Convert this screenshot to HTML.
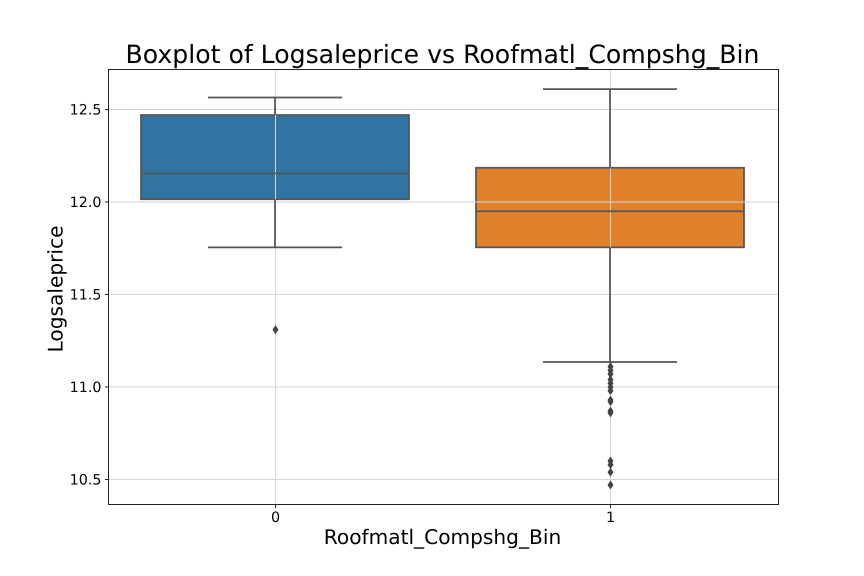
<!DOCTYPE html>
<html>
<head>
<meta charset="utf-8">
<title>Boxplot of Logsaleprice vs Roofmatl_Compshg_Bin</title>
<style>
html,body{margin:0;padding:0;background:#fff;}
svg{display:block;}
text{font-family:"DejaVu Sans","Liberation Sans",sans-serif;fill:#000;text-rendering:geometricPrecision;}
</style>
</head>
<body>
<svg id="chart" xmlns="http://www.w3.org/2000/svg" width="864" height="576" viewBox="0 0 864 576">
<rect width="864" height="576" fill="#fff"/>
<text x="442.5" y="63" font-size="25.15" text-anchor="middle">Boxplot of Logsaleprice vs Roofmatl_Compshg_Bin</text>
<text x="442.5" y="544" font-size="20.15" text-anchor="middle">Roofmatl_Compshg_Bin</text>
<text x="0" y="0" font-size="20.15" text-anchor="middle" transform="translate(62.5,289) rotate(-90)">Logsaleprice</text>
</svg>
<script>
var categories = ['0', '1'];
var q1Values = [12.015, 11.755];
var medianValues = [12.155, 11.95];
var q3Values = [12.47, 12.185];
var whiskerLowValues = [11.755, 11.135];
var whiskerHighValues = [12.565, 12.61];
var outliers0 = [11.31];
var outliers1 = [11.11, 11.09, 11.07, 11.04, 11.02, 11.0, 10.98, 10.93, 10.92, 10.87, 10.86, 10.6, 10.58, 10.54, 10.47];
var yTickLabels = ['10.5', '11.0', '11.5', '12.0', '12.5'];

var svg = document.getElementById('chart');
var NS = 'http://www.w3.org/2000/svg';
var plotLeft = 108.5, plotRight = 778.5, plotTop = 69.5, plotBottom = 504.5;

function xScale(v) { return plotLeft + (v + 0.5) / 2 * (plotRight - plotLeft) - 1; }
function yScale(v) { return 479.5 - (v - 10.5) * 185; }
function make(tag) {
  var el = document.createElementNS(NS, tag);
  svg.appendChild(el);
  return el;
}
function setLine(el, x1, y1, x2, y2, color, width) {
  el.setAttribute('x1', x1);
  el.setAttribute('y1', y1);
  el.setAttribute('x2', x2);
  el.setAttribute('y2', y2);
  el.setAttribute('stroke', color);
  el.setAttribute('stroke-width', width);
}

var boxColors = ['#3274a1', '#e1812c'];
var lineColor = '#555555';
var lineWidth = 1.75;

categories.forEach(function (cat, i) {
  var cx = xScale(i);
  var halfBox = xScale(0.4) - xScale(0);
  var box = make('rect');
  
  
  box.setAttribute('x', cx - halfBox);
  box.setAttribute('y', yScale(q3Values[i]));
  box.setAttribute('width', halfBox * 2);
  box.setAttribute('height', yScale(q1Values[i]) - yScale(q3Values[i]));
  box.setAttribute('fill', boxColors[i]);
  box.setAttribute('stroke', lineColor);
  box.setAttribute('stroke-width', lineWidth);
});

yTickLabels.forEach(function (label) {
  var y = yScale(parseFloat(label));
  var grid = make('line');
  
  
  setLine(grid, plotLeft, y, plotRight, y, '#d6d6d6', 1);
  var tick = make('line');
  
  
  setLine(tick, plotLeft - 3.5, y, plotLeft, y, '#222', 1);
  var text = make('text');
  
  
  text.setAttribute('x', plotLeft - 7);
  text.setAttribute('y', y + 5);
  text.setAttribute('font-size', 14.3);
  text.setAttribute('text-anchor', 'end');
  text.textContent = label;
});

categories.forEach(function (cat, i) {
  var x = xScale(i) + 0.5;
  var grid = make('line');
  
  
  setLine(grid, x, plotTop, x, plotBottom, '#d6d6d6', 1);
  var tick = make('line');
  
  
  setLine(tick, x, plotBottom, x, plotBottom + 3.5, '#222', 1);
  var text = make('text');
  
  
  text.setAttribute('x', x);
  text.setAttribute('y', 522);
  text.setAttribute('font-size', 14.3);
  text.setAttribute('text-anchor', 'middle');
  text.textContent = cat;
});

categories.forEach(function (cat, i) {
  var cx = xScale(i);
  var halfBox = xScale(0.4) - xScale(0);
  var halfCap = xScale(0.2) - xScale(0);
  var lowLine = make('line');
  
  
  setLine(lowLine, cx, yScale(q1Values[i]), cx, yScale(whiskerLowValues[i]), lineColor, lineWidth);
  var highLine = make('line');
  
  
  setLine(highLine, cx, yScale(q3Values[i]), cx, yScale(whiskerHighValues[i]), lineColor, lineWidth);
  var lowCap = make('line');
  
  
  setLine(lowCap, cx - halfCap, yScale(whiskerLowValues[i]), cx + halfCap, yScale(whiskerLowValues[i]), lineColor, lineWidth);
  var highCap = make('line');
  
  
  setLine(highCap, cx - halfCap, yScale(whiskerHighValues[i]), cx + halfCap, yScale(whiskerHighValues[i]), lineColor, lineWidth);
  var median = make('line');
  
  
  setLine(median, cx - halfBox, yScale(medianValues[i]), cx + halfBox, yScale(medianValues[i]), lineColor, lineWidth);
});

[outliers0, outliers1].forEach(function (values, i) {
  var x = xScale(i) + 0.5;
  values.forEach(function (v) {
    var y = yScale(v);
    var mark = make('polygon');
    
    
    mark.setAttribute('points', x + ',' + (y - 4.5) + ' ' + (x + 3) + ',' + y + ' ' + x + ',' + (y + 4.5) + ' ' + (x - 3) + ',' + y);
    mark.setAttribute('fill', '#444444');
  });
});

var frame = make('rect');


frame.setAttribute('x', plotLeft);
frame.setAttribute('y', plotTop);
frame.setAttribute('width', plotRight - plotLeft);
frame.setAttribute('height', plotBottom - plotTop);
frame.setAttribute('fill', 'none');
frame.setAttribute('stroke', '#222');
frame.setAttribute('stroke-width', 1);
</script>
</body>
</html>
